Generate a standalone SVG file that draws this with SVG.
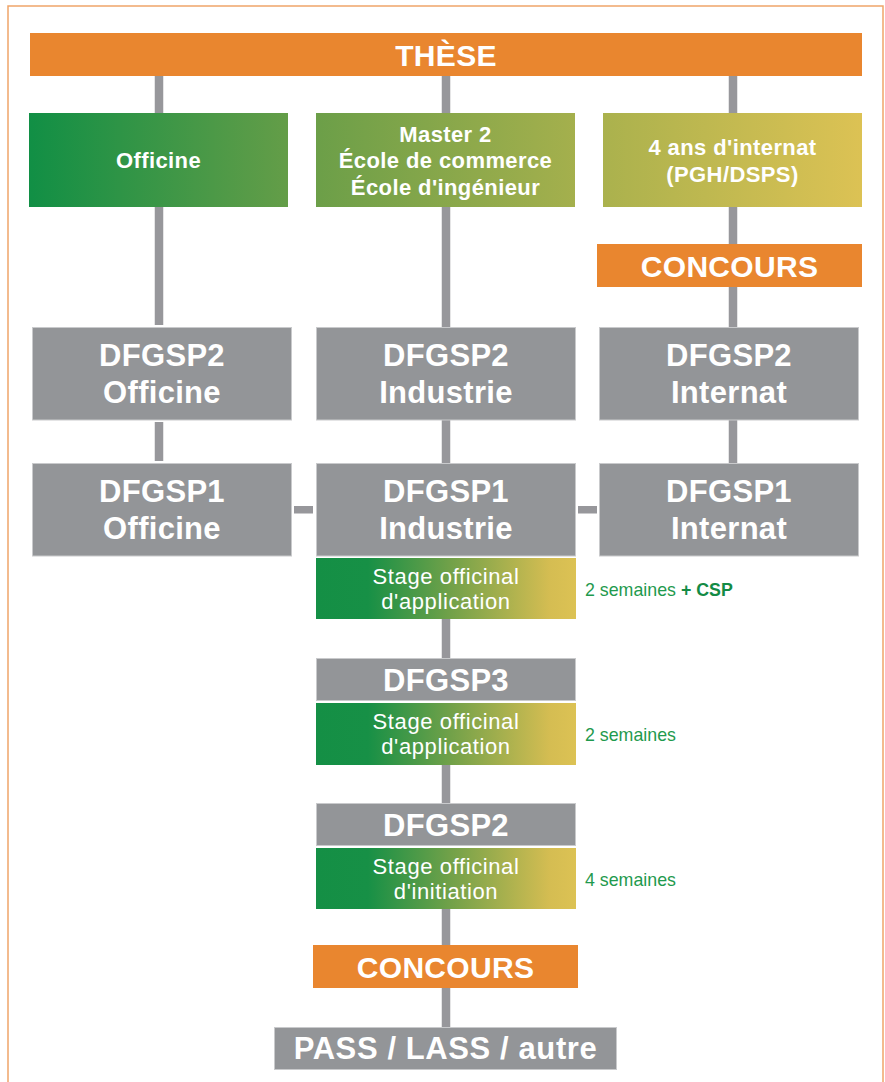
<svg xmlns="http://www.w3.org/2000/svg" width="885" height="1082" viewBox="0 0 885 1082">
<defs>
<linearGradient id="gTop" gradientUnits="userSpaceOnUse" x1="29" y1="0" x2="862" y2="0">
<stop offset="0" stop-color="#118f45"/>
<stop offset="0.33" stop-color="#699e48"/>
<stop offset="0.68" stop-color="#a9b14d"/>
<stop offset="1" stop-color="#dcc254"/>
</linearGradient>
<linearGradient id="gStage" x1="0" y1="0" x2="1" y2="0">
<stop offset="0" stop-color="#148f45"/>
<stop offset="0.2" stop-color="#179046"/>
<stop offset="0.52" stop-color="#72a149"/>
<stop offset="0.9" stop-color="#d5bd52"/>
<stop offset="1" stop-color="#dcc254"/>
</linearGradient>
<style>
.gray{fill:#939598;stroke:#c9cacc;stroke-width:1}
.orange{fill:#e9862f}
.stage{fill:url(#gStage)}
.top{fill:url(#gTop)}
.big{font-family:"Liberation Sans",Arial,sans-serif;font-weight:bold;font-size:31px;fill:#fff;text-anchor:middle;letter-spacing:0.3px}
.mid{font-family:"Liberation Sans",Arial,sans-serif;font-weight:bold;font-size:22px;fill:#fff;text-anchor:middle;letter-spacing:0.4px}
.st{font-family:"Liberation Sans",Arial,sans-serif;font-size:22px;fill:#fff;text-anchor:middle;letter-spacing:0.6px}
.note{font-family:"Liberation Sans",Arial,sans-serif;font-size:17.8px;fill:#1f9a4e}
.noteb{font-weight:bold;fill:#138b45}
.conn{stroke:#97979b;stroke-width:8.5;fill:none}
.dash{fill:#97979b}
</style>
</defs>
<rect width="885" height="1082" fill="#fff"/>
<path d="M8,1082 V6 H883 V1082" fill="none" stroke="#f0a569" stroke-width="1.5"/>

<g id="connectors">
<path class="conn" d="M159,76 V113 M159,207 V325 M159,422 V461"/>
<path class="conn" d="M446,76 V113 M446,207 V327 M446,420 V463 M446,619 V658 M446,765 V803 M446,909 V945 M446,988 V1027"/>
<path class="conn" d="M733,76 V113 M733,207 V244 M733,287 V327 M733,420 V463"/>
<rect class="dash" x="294" y="506" width="19" height="7.5"/>
<rect class="dash" x="578" y="506" width="19" height="7.5"/>
</g>

<g id="these">
<rect class="orange" x="30" y="33" width="832" height="43"/>
<text class="big" x="446" y="66" style="font-size:30px">THÈSE</text>
</g>

<g id="officine-top">
<rect class="top" x="29" y="113" width="259" height="94"/>
<text class="mid" x="158.5" y="168">Officine</text>
</g>
<g id="master">
<rect class="top" x="316" y="113" width="259" height="94"/>
<text class="mid" x="445.5" y="141.5">Master 2</text>
<text class="mid" x="445.5" y="168">École de commerce</text>
<text class="mid" x="445.5" y="195">École d'ingénieur</text>
</g>
<g id="internat-top">
<rect class="top" x="603" y="113" width="259" height="94"/>
<text class="mid" x="732.5" y="155">4 ans d'internat</text>
<text class="mid" x="732.5" y="182">(PGH/DSPS)</text>
</g>

<g id="concours-top">
<rect class="orange" x="597" y="244" width="265" height="43"/>
<text class="big" x="729.5" y="276.5" style="font-size:30px">CONCOURS</text>
</g>

<g id="dfgsp2-officine">
<rect class="gray" x="32.5" y="327.5" width="259" height="92.5"/>
<text class="big" x="162" y="366">DFGSP2</text>
<text class="big" x="162" y="403">Officine</text>
</g>
<g id="dfgsp2-industrie">
<rect class="gray" x="316.5" y="327.5" width="259" height="92.5"/>
<text class="big" x="446" y="366">DFGSP2</text>
<text class="big" x="446" y="403">Industrie</text>
</g>
<g id="dfgsp2-internat">
<rect class="gray" x="599.5" y="327.5" width="259" height="92.5"/>
<text class="big" x="729" y="366">DFGSP2</text>
<text class="big" x="729" y="403">Internat</text>
</g>

<g id="dfgsp1-officine">
<rect class="gray" x="32.5" y="463.5" width="259" height="92.5"/>
<text class="big" x="162" y="502">DFGSP1</text>
<text class="big" x="162" y="539">Officine</text>
</g>
<g id="dfgsp1-industrie">
<rect class="gray" x="316.5" y="463.5" width="259" height="92.5"/>
<text class="big" x="446" y="502">DFGSP1</text>
<text class="big" x="446" y="539">Industrie</text>
</g>
<g id="dfgsp1-internat">
<rect class="gray" x="599.5" y="463.5" width="259" height="92.5"/>
<text class="big" x="729" y="502">DFGSP1</text>
<text class="big" x="729" y="539">Internat</text>
</g>

<g id="stage1">
<rect class="stage" x="316" y="558" width="260" height="61"/>
<text class="st" x="446" y="583.5">Stage officinal</text>
<text class="st" x="446" y="608.5">d'application</text>
<text class="note" x="585" y="596">2 semaines <tspan class="noteb">+ CSP</tspan></text>
</g>

<g id="dfgsp3">
<rect class="gray" x="316.5" y="658.5" width="259" height="42"/>
<text class="big" x="446" y="691">DFGSP3</text>
</g>
<g id="stage2">
<rect class="stage" x="316" y="703" width="260" height="62"/>
<text class="st" x="446" y="729">Stage officinal</text>
<text class="st" x="446" y="754">d'application</text>
<text class="note" x="585" y="741">2 semaines</text>
</g>

<g id="dfgsp2">
<rect class="gray" x="316.5" y="803.5" width="259" height="42"/>
<text class="big" x="446" y="836">DFGSP2</text>
</g>
<g id="stage3">
<rect class="stage" x="316" y="848" width="260" height="61"/>
<text class="st" x="446" y="873.5">Stage officinal</text>
<text class="st" x="446" y="898.5">d'initiation</text>
<text class="note" x="585" y="886">4 semaines</text>
</g>

<g id="concours-bottom">
<rect class="orange" x="313" y="945" width="265" height="43"/>
<text class="big" x="445.5" y="977.5" style="font-size:30px">CONCOURS</text>
</g>

<g id="pass">
<rect class="gray" x="274.5" y="1027.5" width="342" height="42"/>
<text class="big" x="445.5" y="1059" style="font-size:31px;letter-spacing:0.6px">PASS / LASS / autre</text>
</g>
</svg>
